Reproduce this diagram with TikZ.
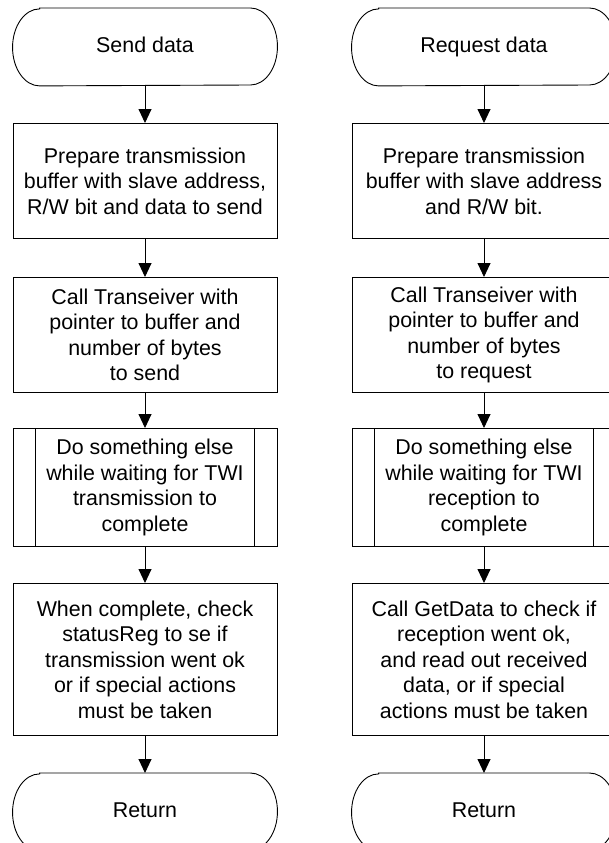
\documentclass[tikz,border=0pt]{standalone}
\usepackage{fontspec}
\setmainfont{Liberation Sans}
\usetikzlibrary{arrows.meta}

\tikzset{
  flowbox/.style={draw=black, line width=0.9pt, rectangle, minimum width=264pt,
    inner sep=0pt, align=center, anchor=north,
    font=\fontsize{21.4}{25.5}\selectfont},
  termbox/.style={flowbox, draw=none, text height=15.5pt, text depth=4.5pt},
  termline/.style={draw=black, line width=0.9pt},
  flowarrow/.style={draw=black, line width=0.9pt,
    -{Triangle[length=14pt,width=13pt]}},
  subline/.style={draw=black, line width=0.9pt},
}

% rounded terminator outline around a named node
\newcommand{\terminator}[1]{%
  \draw[termline] ([xshift=27pt]#1.north west) -- ([xshift=-27pt]#1.north east)
    arc[start angle=90, end angle=-90, x radius=27pt, y radius=38.5pt]
    -- ([xshift=27pt]#1.south west)
    arc[start angle=270, end angle=90, x radius=27pt, y radius=38.5pt] -- cycle;}

% vertical side bars of a predefined-process box
\newcommand{\subbars}[1]{%
  \draw[subline] ([xshift=23pt]#1.north west) -- ([xshift=23pt]#1.south west);
  \draw[subline] ([xshift=-23pt]#1.north east) -- ([xshift=-23pt]#1.south east);}

\begin{document}
\begin{tikzpicture}[x=1pt, y=-1pt]
\useasboundingbox (0,0) rectangle (608,843);

% ---- left column: sending ----
\node[termbox, minimum height=77pt] (sstart) at (145,8) {Send data};
\terminator{sstart}
\node[flowbox, minimum height=115pt] (sprep) at (145,123)
  {Prepare transmission\\buffer with slave address,\\R/W bit and data to send};
\node[flowbox, minimum height=115pt] (scall) at (145,277)
  {Call Transeiver with\\pointer to buffer and\\number of bytes\\to send};
\node[flowbox, minimum height=118pt] (swait) at (145,428)
  {Do something else\\while waiting for TWI\\transmission to\\complete};
\subbars{swait}
\node[flowbox, minimum height=152pt] (scheck) at (145,583)
  {When complete, check\\statusReg to se if\\transmission went ok\\or if special actions\\must be taken};
\node[termbox, minimum height=77pt] (sret) at (145,773) {Return};
\terminator{sret}

\draw[flowarrow] (sstart) -- (sprep);
\draw[flowarrow] (sprep) -- (scall);
\draw[flowarrow] (scall) -- (swait);
\draw[flowarrow] (swait) -- (scheck);
\draw[flowarrow] (scheck) -- (sret);

% ---- right column: requesting ----
\node[termbox, minimum height=77pt] (rstart) at (484,8) {Request data};
\terminator{rstart}
\node[flowbox, minimum height=115pt] (rprep) at (484,123)
  {Prepare transmission\\buffer with slave address\\and R/W bit.};
\node[flowbox, minimum height=115pt] (rcall) at (484,277)
  {Call Transeiver with\\pointer to buffer and\\number of bytes\\to request};
\node[flowbox, minimum height=118pt] (rwait) at (484,428)
  {Do something else\\while waiting for TWI\\reception to\\complete};
\subbars{rwait}
\node[flowbox, minimum height=152pt] (rcheck) at (484,583)
  {Call GetData to check if\\reception went ok,\\and read out received\\data, or if special\\actions must be taken};
\node[termbox, minimum height=77pt] (rret) at (484,773) {Return};
\terminator{rret}

\draw[flowarrow] (rstart) -- (rprep);
\draw[flowarrow] (rprep) -- (rcall);
\draw[flowarrow] (rcall) -- (rwait);
\draw[flowarrow] (rwait) -- (rcheck);
\draw[flowarrow] (rcheck) -- (rret);
\end{tikzpicture}
\end{document}
